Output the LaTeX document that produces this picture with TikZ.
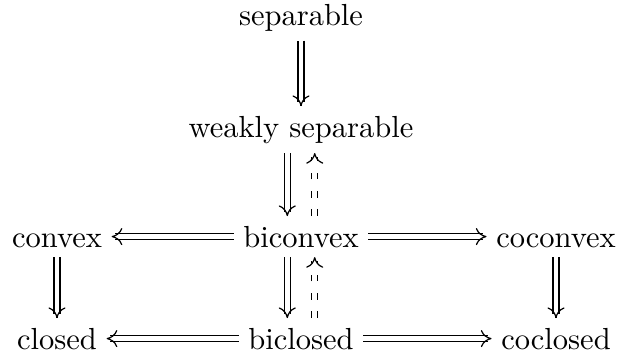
\documentclass[tikz,border=0pt]{standalone}
\usetikzlibrary{arrows.meta}
\begin{document}
\begin{tikzpicture}[x=0.3279pt,y=-0.3279pt,
  lbl/.style={anchor=base,inner sep=3pt,text height=6.94pt},
  impl/.style={double,double distance=1.6pt,line width=0.4pt,shorten >=1.2pt},
  dimpl/.style={impl,dash pattern=on 2.2pt off 3.8pt},
  tipend/.style={line width=0.4pt,-{Computer Modern Rightarrow[length=3.5pt,width=5.6pt]}}]
\useasboundingbox (0,0) rectangle (621,358);
\node[lbl] (sep) at (301,25) {separable};
\node[lbl] (wsep) at (301,137) {weakly separable};
\node[lbl] (cvx) at (57,247) {convex};
\node[lbl] (bcvx) at (301,247) {biconvex};
\node[lbl] (ccvx) at (556,247) {coconvex};
\node[lbl] (cl) at (57,349) {closed};
\node[lbl] (bcl) at (301,349) {biclosed};
\node[lbl] (ccl) at (556,349) {coclosed};
% separable => weakly separable
\draw[impl] (sep) -- (wsep);
\draw[tipend] ([yshift=0.5pt]wsep.north) -- (wsep.north);
% weakly separable => biconvex
\draw[impl] ([xshift=-4.5pt]wsep.south) -- ([xshift=-4.5pt]bcvx.north);
\draw[tipend] ([xshift=-4.5pt,yshift=0.5pt]bcvx.north) -- ([xshift=-4.5pt]bcvx.north);
% biconvex dashed => weakly separable
\draw[dimpl] ([xshift=4.5pt]bcvx.north) -- ([xshift=4.5pt]wsep.south);
\draw[tipend] ([xshift=4.5pt,yshift=-0.5pt]wsep.south) -- ([xshift=4.5pt]wsep.south);
% biconvex => convex, coconvex
\draw[impl] (bcvx) -- (cvx);
\draw[tipend] ([xshift=0.5pt]cvx.east) -- (cvx.east);
\draw[impl] (bcvx) -- (ccvx);
\draw[tipend] ([xshift=-0.5pt]ccvx.west) -- (ccvx.west);
% convex => closed, coconvex => coclosed
\draw[impl] (cvx) -- (cl);
\draw[tipend] ([yshift=0.5pt]cl.north) -- (cl.north);
\draw[impl] (ccvx) -- (ccl);
\draw[tipend] ([yshift=0.5pt]ccl.north) -- (ccl.north);
% biconvex => biclosed
\draw[impl] ([xshift=-4.5pt]bcvx.south) -- ([xshift=-4.5pt]bcl.north);
\draw[tipend] ([xshift=-4.5pt,yshift=0.5pt]bcl.north) -- ([xshift=-4.5pt]bcl.north);
% biclosed dashed => biconvex
\draw[dimpl] ([xshift=4.5pt]bcl.north) -- ([xshift=4.5pt]bcvx.south);
\draw[tipend] ([xshift=4.5pt,yshift=-0.5pt]bcvx.south) -- ([xshift=4.5pt]bcvx.south);
% biclosed => closed, coclosed
\draw[impl] (bcl) -- (cl);
\draw[tipend] ([xshift=0.5pt]cl.east) -- (cl.east);
\draw[impl] (bcl) -- (ccl);
\draw[tipend] ([xshift=-0.5pt]ccl.west) -- (ccl.west);
\end{tikzpicture}
\end{document}
